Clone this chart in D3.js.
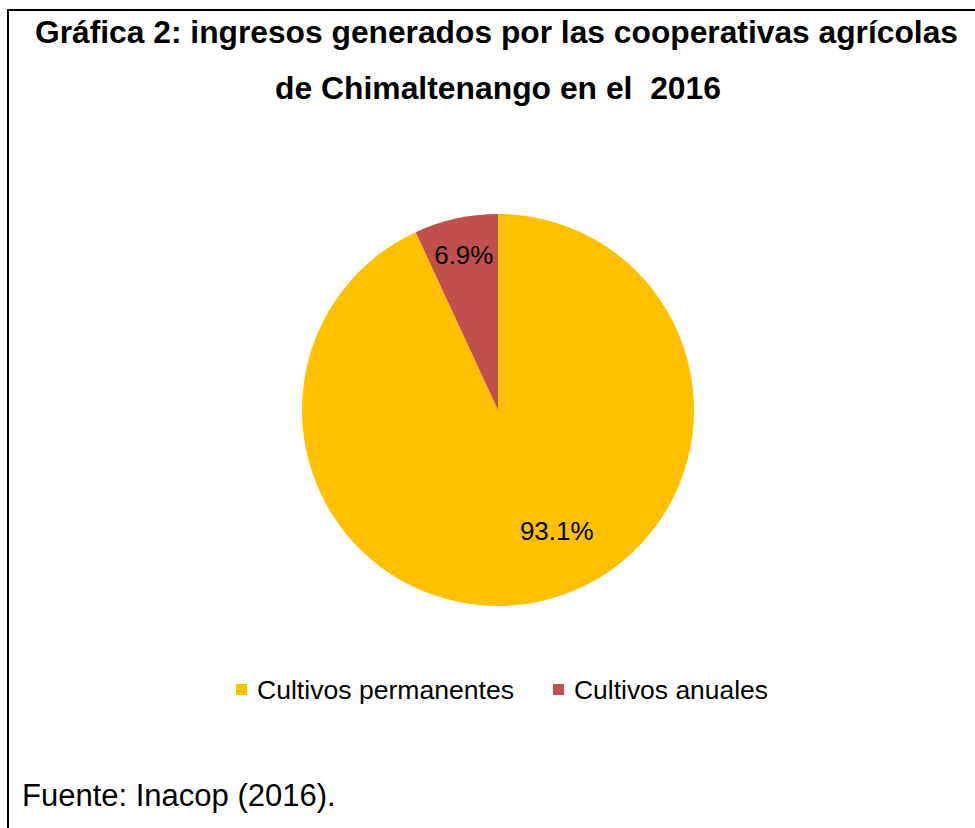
<!DOCTYPE html>
<html><head><meta charset="utf-8">
<script src="https://cdn.jsdelivr.net/npm/d3@7"></script>
<style>html,body{margin:0;padding:0;background:#fff;}svg{display:block;}</style>
</head><body>
<svg id="chart" width="975" height="828"></svg>
<script>
const categories = ["Cultivos permanentes", "Cultivos anuales"];
const values = [93.1, 6.9];
const labels = ["93.1%", "6.9%"];
const colors = ["#FFC000", "#C0504D"];
const titleLines = ["Gráfica 2: ingresos generados por las cooperativas agrícolas", "de Chimaltenango en el  2016"];
const source = "Fuente: Inacop (2016).";

const svg = d3.select("#chart");
const font = "'Liberation Sans', Arial, sans-serif";

// frame (top and left edges)
svg.append("line").attr("x1", 8).attr("x2", 975).attr("y1", 10).attr("y2", 10)
  .attr("stroke", "#000").attr("stroke-width", 2);
svg.append("line").attr("x1", 8).attr("x2", 8).attr("y1", 9).attr("y2", 828)
  .attr("stroke", "#000").attr("stroke-width", 2);

function fitText(sel, target) {
  const w = sel.node().getComputedTextLength();
  if (Math.abs(w - target) > 2) sel.attr("textLength", target).attr("lengthAdjust", "spacingAndGlyphs");
  return sel;
}

// title
fitText(svg.append("text").attr("x", 496.5).attr("y", 43).attr("text-anchor", "middle")
  .attr("font-family", font).attr("font-weight", "bold").attr("font-size", 31)
  .text(titleLines[0]), 923);
fitText(svg.append("text").attr("x", 498).attr("y", 99).attr("text-anchor", "middle")
  .attr("font-family", font).attr("font-weight", "bold").attr("font-size", 31)
  .style("white-space", "pre")
  .text(titleLines[1]), 446);

// pie
const cx = 498, cy = 410, r = 196;
const pie = d3.pie().sort(null).value(d => d)(values);
const arc = d3.arc().innerRadius(0).outerRadius(r);
const g = svg.append("g").attr("transform", `translate(${cx},${cy})`);
g.selectAll("path").data(pie).join("path")
  .attr("d", arc).attr("fill", (d, i) => colors[i]);

// labels (Excel best-fit placement)
const labelPlace = [{r: 134, da: -0.237}, {r: 159, da: 0}];
g.selectAll("text.lbl").data(pie).join("text").attr("class", "lbl")
  .attr("transform", (d, i) => {
    const a = (d.startAngle + d.endAngle) / 2 + labelPlace[i].da;
    const rr = labelPlace[i].r;
    return `translate(${rr * Math.sin(a)},${-rr * Math.cos(a)})`;
  })
  .attr("text-anchor", "middle").attr("dy", "0.35em")
  .attr("font-family", font).attr("font-size", 26).attr("fill", "#000")
  .text((d, i) => labels[i]);

// legend
const legendX = [236, 553];
const legendW = [257, 194];
const leg = svg.append("g");
categories.forEach((c, i) => {
  leg.append("rect").attr("x", legendX[i]).attr("y", 684).attr("width", 11).attr("height", 11)
    .attr("fill", colors[i]);
  fitText(leg.append("text").attr("x", legendX[i] + 21).attr("y", 699)
    .attr("font-family", font).attr("font-size", 26).attr("fill", "#000").text(c), legendW[i]);
});

// source
fitText(svg.append("text").attr("x", 22).attr("y", 806)
  .attr("font-family", font).attr("font-size", 31).attr("fill", "#000").text(source), 313);
</script>
</body></html>
